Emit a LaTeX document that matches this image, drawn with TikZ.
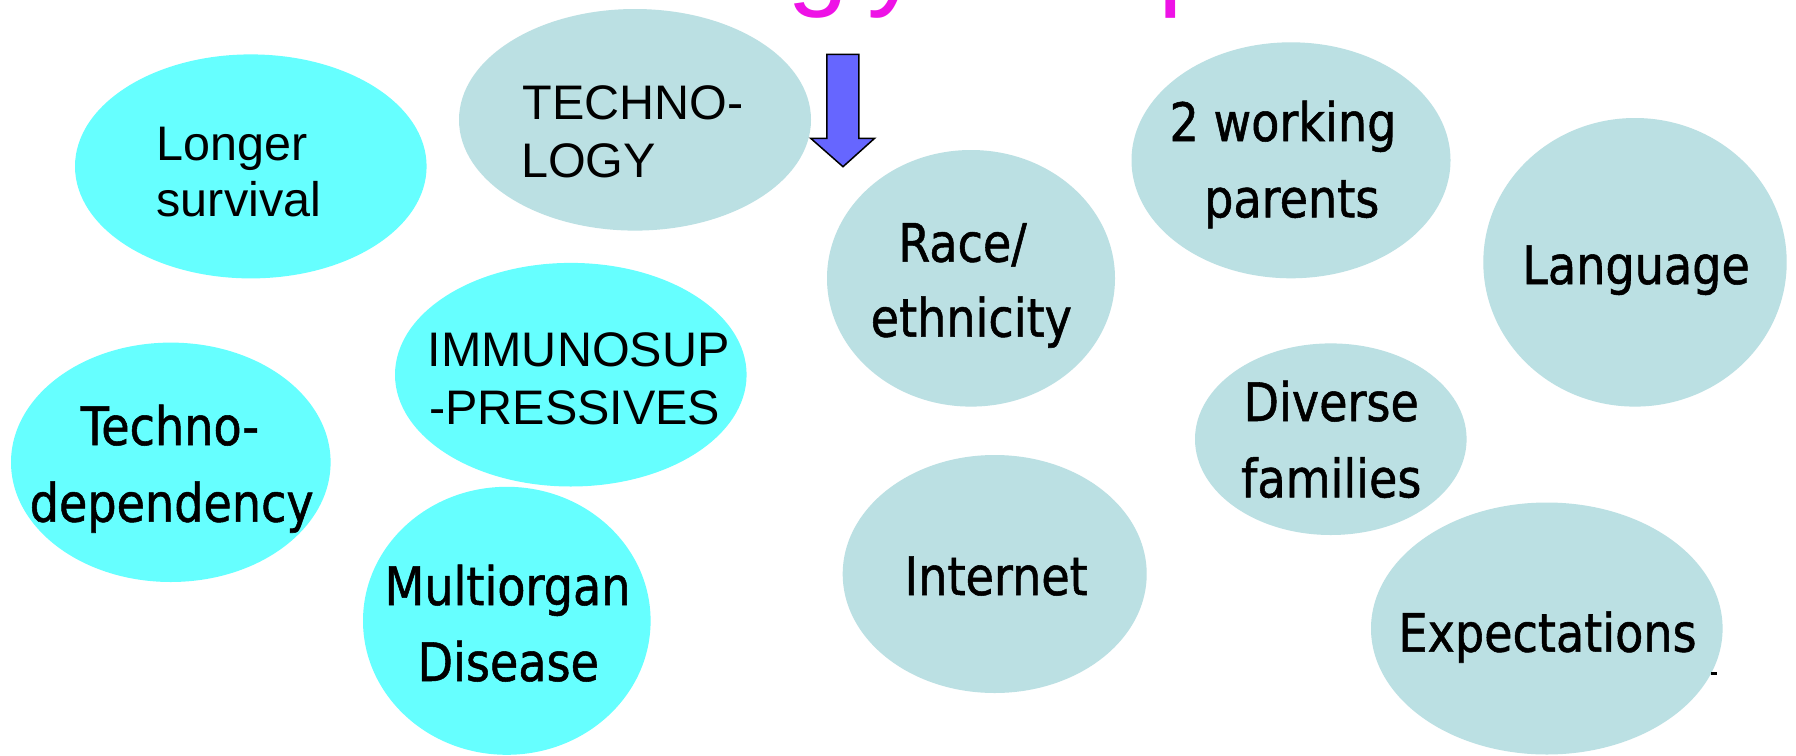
\documentclass[tikz,border=0pt]{standalone}
\usepackage{fontspec}
\setmainfont{Liberation Sans}
\newfontfamily\tahomalike[FakeStretch=0.87,FakeBold=1]{DejaVu Sans}
\usetikzlibrary{shapes.geometric}
\definecolor{cyanfill}{HTML}{66FFFF}
\definecolor{bluefill}{HTML}{BBE0E3}
\definecolor{arrowfill}{HTML}{6666FF}
\definecolor{titlemag}{HTML}{EE12E6}
\begin{document}
\begin{tikzpicture}[x=1pt,y=-1pt,
  bubble/.style={ellipse, draw=none, inner sep=0pt, outer sep=0pt},
  cyanbubble/.style={bubble, fill=cyanfill},
  bluebubble/.style={bubble, fill=bluefill},
  arialtxt/.style={inner sep=0pt, font=\fontsize{48.5}{58}\selectfont, anchor=base west},
  tahtxt/.style={inner sep=0pt, font=\tahomalike\fontsize{53}{64}\selectfont, anchor=base},
  titletxt/.style={inner sep=0pt, text=titlemag, font=\fontsize{110}{130}\selectfont, anchor=base west},
  blockarrow/.style={fill=arrowfill, draw=black, line width=1.5pt, line join=miter}]
\useasboundingbox (0,0) rectangle (1796,755);
\clip (0,0) rectangle (1796,755);
\fill[white] (0,0) rectangle (1796,755);

% title fragments (cut off at the top)
\node[titletxt] (tg) at (787,-5) {g\kern19pt y};
\node[titletxt] (tp) at (1158,-5) {p};

% bubbles
\node[cyanbubble, minimum width=351.6pt, minimum height=224pt] (e1) at (250.8,166.4) {};
\node[bluebubble, minimum width=352pt, minimum height=221.6pt] (e2) at (635,119.8) {};
\node[bluebubble, minimum width=288pt, minimum height=256.6pt] (e3) at (971,278.3) {};
\node[bluebubble, minimum width=319pt, minimum height=236pt] (e4) at (1291,160.3) {};
\node[bluebubble, minimum width=303.4pt, minimum height=288.6pt] (e5) at (1635,262.3) {};
\node[bluebubble, minimum width=271.6pt, minimum height=191.6pt] (e6) at (1330.8,439.2) {};
\node[bluebubble, minimum width=351.6pt, minimum height=252pt] (e7) at (1546.8,628.5) {};
\node[bluebubble, minimum width=304pt, minimum height=238pt] (e8) at (994.7,574) {};
\node[cyanbubble, minimum width=319.6pt, minimum height=239.4pt] (e9) at (170.8,462.3) {};
\node[cyanbubble, minimum width=351.6pt, minimum height=223.6pt] (e10) at (570.8,374.7) {};
\node[cyanbubble, minimum width=287.6pt, minimum height=268pt] (e11) at (506.8,620.8) {};

% block arrow
\draw[blockarrow] (826.8,54.3) -- (858.9,54.3) -- (858.9,138.3) -- (874.6,138.3)
  -- (843,166.7) -- (810.7,138.3) -- (826.8,138.3) -- cycle;

% texts (Arial-like)
\node[arialtxt] (t1a) at (156.5,160) {Longer};
\node[arialtxt] (t1b) at (156.5,216.7) {survival};
\node[arialtxt] (t2a) at (522.5,119.2) {TECHNO-};
\node[arialtxt] (t2b) at (521,177.6) {LOGY};
\node[arialtxt] (t10a) at (427.5,366) {IMMUNOSUP};
\node[arialtxt] (t10b) at (429,424.5) {-PRESSIVES};

% texts (Tahoma-like)
\node[tahtxt] (t3a) at (962.5,261.7) {Race/};
\node[tahtxt] (t3b) at (971.3,336.7) {ethnicity};
\node[tahtxt] (t4a) at (1283,141) {2 working};
\node[tahtxt] (t4b) at (1291.7,217.3) {parents};
\node[tahtxt] (t5) at (1636,284) {Language};
\node[tahtxt] (t6a) at (1331.2,421) {Diverse};
\node[tahtxt] (t6b) at (1331.3,497.3) {families};
\node[tahtxt] (t7) at (1547.5,651.7) {Expectations};
\node[tahtxt] (t8) at (996.2,595) {Internet};
\node[tahtxt] (t9a) at (170,445) {Techno-};
\node[tahtxt] (t9b) at (171.7,521.7) {dependency};
\node[tahtxt] (t11a) at (507.5,605) {Multiorgan};
\node[tahtxt] (t11b) at (508.3,681) {Disease};

% small dash near the Expectations bubble
\draw[line width=2.5pt] (1711,673.5) -- (1717,673.5);
\end{tikzpicture}
\end{document}
